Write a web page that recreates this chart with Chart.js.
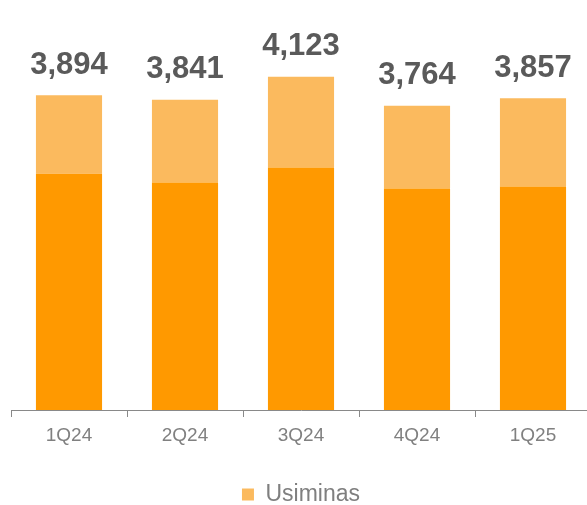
<!DOCTYPE html>
<html>
<head>
<meta charset="utf-8">
<script src="https://cdn.jsdelivr.net/npm/chart.js@4.4.1/dist/chart.umd.min.js"></script>
<style>
  html, body { margin: 0; padding: 0; background: #fff; overflow: hidden; }
  #wrap { width: 600px; height: 520px; }
</style>
</head>
<body>
<div id="wrap"><canvas id="volChart" width="600" height="520"></canvas></div>
<script>
// Values
const quarters = ['1Q24', '2Q24', '3Q24', '4Q24', '1Q25'];
const totals = [3894, 3841, 4123, 3764, 3857];
const baseVolumes = [2925, 2815, 3000, 2740, 2765];
const usiminasVolumes = [969, 1026, 1123, 1024, 1092];

const FONT = "'Liberation Sans', Arial, sans-serif";

// Draw the total above each stacked bar
const totalLabels = {
  id: 'totalLabels',
  afterDatasetsDraw(chart) {
    const ctx = chart.ctx;
    const yScale = chart.scales.y;
    const xScale = chart.scales.x;
    ctx.save();
    ctx.font = `bold 31px ${FONT}`;
    ctx.fillStyle = '#5A5A5A';
    ctx.textAlign = 'center';
    ctx.textBaseline = 'middle';
    totals.forEach((t, i) => {
      const x = xScale.getPixelForValue(i);
      const y = yScale.getPixelForValue(t);
      ctx.fillText(t.toLocaleString('en-US'), x, y - 30);
    });
    ctx.restore();
  }
};

new Chart(document.getElementById('volChart'), {
  type: 'bar',
  data: {
    labels: quarters,
    datasets: [
      {
        label: 'Base',
        data: baseVolumes,
        backgroundColor: '#FF9900',
        borderWidth: 0
      },
      {
        label: 'Usiminas',
        data: usiminasVolumes,
        backgroundColor: '#FBBA5E',
        borderWidth: 0
      }
    ]
  },
  options: {
    responsive: false,
    animation: false,
    datasets: {
      bar: { categoryPercentage: 1, barPercentage: 0.57 }
    },
    layout: {
      padding: { left: 11, right: 9, top: 6, bottom: 4 }
    },
    scales: {
      x: {
        stacked: true,
        grid: {
          drawOnChartArea: false,
          drawTicks: true,
          tickLength: 7,
          color: '#898989'
        },
        border: { color: '#898989', width: 1 },
        ticks: {
          color: '#808080',
          font: { family: FONT, size: 19 },
          padding: 7
        },
        afterFit(scale) { scale.height = 69; }
      },
      y: {
        stacked: true,
        display: false,
        min: 0,
        max: 5000
      }
    },
    plugins: {
      tooltip: { enabled: false },
      legend: {
        position: 'bottom',
        labels: {
          filter: item => item.text === 'Usiminas',
          boxWidth: 12,
          boxHeight: 12,
          color: '#7F7F7F',
          padding: 4,
          font: { family: FONT, size: 23 }
        }
      }
    }
  },
  plugins: [totalLabels]
});
</script>
</body>
</html>
